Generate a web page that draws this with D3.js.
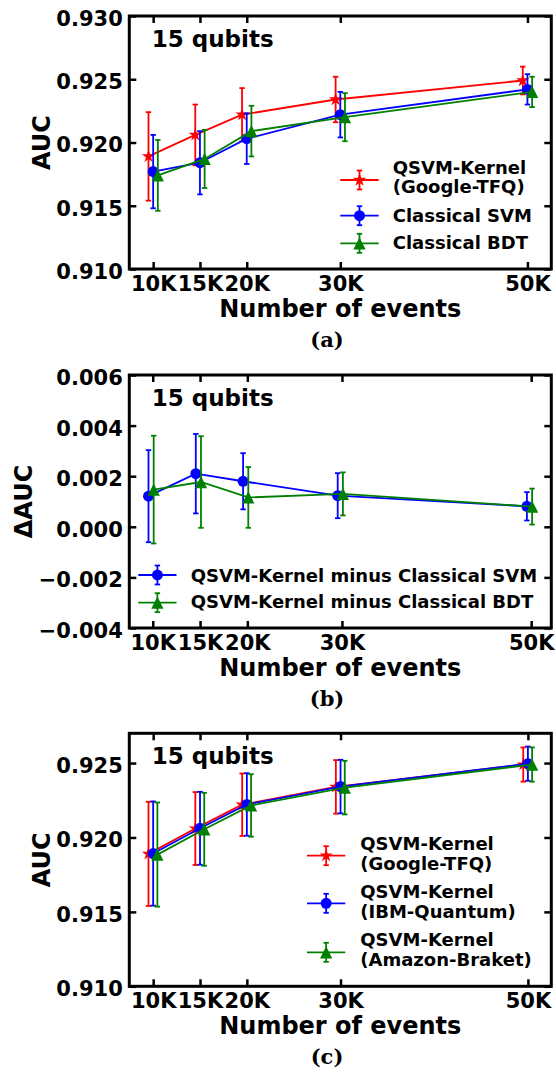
<!DOCTYPE html>
<html>
<head>
<meta charset="utf-8">
<script src="https://cdn.jsdelivr.net/npm/d3@7"></script>
<style>
  body { margin: 0; background: #fff; }
  svg text { font-family: "DejaVu Sans", sans-serif; font-weight: bold; }
</style>
</head>
<body>
<div id="chart"></div>
<script>
// number of events (thousands)
const events = [10, 15, 20, 30, 50];

// (a) AUC vs events
const aucTfq = [0.9189, 0.9206, 0.9222, 0.9234, 0.9249];
const errTfq = [0.0035, 0.0024, 0.0021, 0.0018, 0.0011];
const aucSvm = [0.9177, 0.9184, 0.9203, 0.9222, 0.9242];
const errSvm = [0.0029, 0.0025, 0.0020, 0.0018, 0.0012];
const aucBdt = [0.9174, 0.9187, 0.9209, 0.9220, 0.9240];
const errBdt = [0.0028, 0.0023, 0.0020, 0.0019, 0.0012];

// (b) delta AUC
const diffSvm = [0.00121, 0.00210, 0.00180, 0.00123, 0.00081];
const diffSvmErr = [0.00182, 0.00157, 0.00111, 0.00089, 0.00056];
const diffBdt = [0.00147, 0.00177, 0.00116, 0.00130, 0.00080];
const diffBdtErr = [0.00213, 0.00181, 0.00120, 0.00085, 0.00071];

// (c) three quantum backends
const aucIbm = [0.91892, 0.92062, 0.92222, 0.92342, 0.92496];
const errIbm = [0.0035, 0.00245, 0.0021, 0.0018, 0.00115];
const aucBraket = [0.91885, 0.92055, 0.92215, 0.92335, 0.9249];
const errBraket = [0.0035, 0.00245, 0.0021, 0.0018, 0.00115];

// legend labels
const labelTfq = ["QSVM-Kernel", "(Google-TFQ)"];
const labelSvm = ["Classical SVM"];
const labelBdt = ["Classical BDT"];
const labelDiffSvm = ["QSVM-Kernel minus Classical SVM"];
const labelDiffBdt = ["QSVM-Kernel minus Classical BDT"];
const labelIbm = ["QSVM-Kernel", "(IBM-Quantum)"];
const labelBraket = ["QSVM-Kernel", "(Amazon-Braket)"];

const aucTicks = [0.910, 0.915, 0.920, 0.925, 0.930];
const aucTicksC = [0.910, 0.915, 0.920, 0.925];
const diffTicks = [-0.004, -0.002, 0, 0.002, 0.004, 0.006];

// matplotlib style triangle ("^")
const triangleType = {
    draw(context, size) {
        const h = Math.sqrt(size) / 2;
        context.moveTo(0, -h);
        context.lineTo(h, h);
        context.lineTo(-h, h);
        context.closePath();
    }
};
const star = d3.symbol().type(d3.symbolStar).size(55)();
const circle = d3.symbol().type(d3.symbolCircle).size(Math.PI * 30)();
const triangle = d3.symbol().type(triangleType).size(150)();

const RED = "#ff0000", BLUE = "#0000ff", GREEN = "#008000";
const LW = 1.8;

const W = 556, H = 1072;
const left = 129.3, width = 422, height = 253;

const svg = d3.select("#chart").append("svg")
    .attr("width", W)
    .attr("height", H);

const panels = [
    {
        top: 16, yDomain: [0.910, 0.930], yTicks: aucTicks, yLabel: "AUC", yLabelX: 50, caption: "(a)",
        series: [
            { values: aucTfq, errors: errTfq, color: RED, symbol: star, offset: -0.5, label: labelTfq },
            { values: aucSvm, errors: errSvm, color: BLUE, symbol: circle, offset: 0, label: labelSvm },
            { values: aucBdt, errors: errBdt, color: GREEN, symbol: triangle, offset: 0.5, label: labelBdt }
        ],
        legend: { x0: 211, x1: 249.4, textX: 263.4, lineGap: 19,
                  rows: [{ my: 164, ty: 158.3 }, { my: 199.7, ty: 205.7 }, { my: 227.3, ty: 233.3 }] }
    },
    {
        top: 375, yDomain: [-0.004, 0.006], yTicks: diffTicks, yLabel: "ΔAUC", yLabelX: 31.5, caption: "(b)",
        series: [
            { values: diffSvm, errors: diffSvmErr, color: BLUE, symbol: circle, offset: -0.45, label: labelDiffSvm },
            { values: diffBdt, errors: diffBdtErr, color: GREEN, symbol: triangle, offset: 0.1, label: labelDiffBdt }
        ],
        legend: { x0: 9, x1: 47.2, textX: 61.4, lineGap: 19,
                  rows: [{ my: 200, ty: 206.7 }, { my: 227.7, ty: 233.3 }] }
    },
    {
        top: 733.3, yDomain: [0.910, 0.927], yTicks: aucTicksC, yLabel: "AUC", yLabelX: 50, caption: "(c)",
        series: [
            { values: aucTfq, errors: errIbm, color: RED, symbol: star, offset: -0.5, label: labelTfq },
            { values: aucIbm, errors: errIbm, color: BLUE, symbol: circle, offset: 0, label: labelIbm },
            { values: aucBraket, errors: errBraket, color: GREEN, symbol: triangle, offset: 0.45, label: labelBraket }
        ],
        legend: { x0: 177.7, x1: 216, textX: 231, lineGap: 20,
                  rows: [{ my: 122.4, ty: 116.7 }, { my: 170, ty: 164.4 }, { my: 219, ty: 212.7 }] }
    }
];

function drawPanel(p) {
    const g = svg.append("g").attr("transform", `translate(${left},${p.top})`);

    // x domain with matplotlib-like 5% margins around the shifted points
    const xs = p.series.flatMap(s => events.map(e => e + s.offset));
    const lo = d3.min(xs), hi = d3.max(xs), pad = (hi - lo) * 0.05;
    const x = d3.scaleLinear().domain([lo - pad, hi + pad]).range([0, width]);
    const y = d3.scaleLinear().domain(p.yDomain).range([height, 0]);

    // ticks pointing inward on all four sides
    const tk = 7;
    g.append("g").attr("class", "yl")
        .call(d3.axisLeft(y).tickValues(p.yTicks).tickFormat(d3.format(".3f"))
            .tickSizeInner(-tk).tickSizeOuter(0).tickPadding(6.5));
    g.append("g").attr("transform", `translate(${width},0)`)
        .call(d3.axisRight(y).tickValues(p.yTicks).tickFormat("").tickSizeInner(-tk).tickSizeOuter(0));
    g.append("g").attr("transform", `translate(0,${height})`)
        .call(d3.axisBottom(x).tickValues(events).tickFormat(d => d + "K")
            .tickSizeInner(-tk).tickSizeOuter(0).tickPadding(7));
    g.append("g")
        .call(d3.axisTop(x).tickValues(events).tickFormat("").tickSizeInner(-tk).tickSizeOuter(0));
    g.selectAll(".domain").remove();
    g.selectAll(".tick line").attr("stroke", "#000").attr("stroke-width", 2.5);
    g.selectAll(".tick text").attr("font-size", 21).attr("fill", "#000");
    g.selectAll(".yl .tick text").attr("dy", "0.45em");

    // data
    p.series.forEach(s => {
        const pts = events.map((e, i) => ({ x: x(e + s.offset), v: s.values[i], err: s.errors[i] }));
        const sg = g.append("g");
        sg.selectAll(".bar").data(pts).join("line")
            .attr("class", "bar")
            .attr("x1", d => d.x).attr("x2", d => d.x)
            .attr("y1", d => y(d.v - d.err)).attr("y2", d => y(d.v + d.err))
            .attr("stroke", s.color).attr("stroke-width", LW);
        const caps = pts.flatMap(d => [{ x: d.x, y: y(d.v - d.err) }, { x: d.x, y: y(d.v + d.err) }]);
        sg.selectAll(".cap").data(caps).join("line")
            .attr("class", "cap")
            .attr("x1", d => d.x - 2.7).attr("x2", d => d.x + 2.7)
            .attr("y1", d => d.y).attr("y2", d => d.y)
            .attr("stroke", s.color).attr("stroke-width", LW);
        sg.append("path").datum(pts)
            .attr("d", d3.line().x(d => d.x).y(d => y(d.v)))
            .attr("fill", "none").attr("stroke", s.color).attr("stroke-width", LW);
        sg.selectAll(".mk").data(pts).join("path")
            .attr("class", "mk")
            .attr("transform", d => `translate(${d.x},${y(d.v)})`)
            .attr("d", s.symbol)
            .attr("fill", s.color);
    });

    // frame
    g.append("rect")
        .attr("width", width).attr("height", height)
        .attr("fill", "none").attr("stroke", "#000").attr("stroke-width", 3);

    // annotation
    g.append("text").attr("x", 22.4).attr("y", 31).attr("font-size", 23).text("15 qubits");

    // legend
    const L = p.legend;
    p.series.forEach((s, i) => {
        const r = L.rows[i];
        const lg = g.append("g");
        const mx = (L.x0 + L.x1) / 2;
        lg.append("line").attr("x1", L.x0).attr("x2", L.x1).attr("y1", r.my).attr("y2", r.my)
            .attr("stroke", s.color).attr("stroke-width", LW);
        lg.append("line").attr("x1", mx).attr("x2", mx).attr("y1", r.my - 9.5).attr("y2", r.my + 9.5)
            .attr("stroke", s.color).attr("stroke-width", LW);
        [r.my - 9.5, r.my + 9.5].forEach(cy => {
            lg.append("line").attr("x1", mx - 2.7).attr("x2", mx + 2.7).attr("y1", cy).attr("y2", cy)
                .attr("stroke", s.color).attr("stroke-width", LW);
        });
        lg.append("path").attr("transform", `translate(${mx},${r.my})`).attr("d", s.symbol).attr("fill", s.color);
        s.label.forEach((t, j) => {
            lg.append("text").attr("x", L.textX).attr("y", r.ty + j * L.lineGap)
                .attr("font-size", 18).text(t);
        });
    });

    // axis labels
    g.append("text")
        .attr("x", width / 2).attr("y", height + 48)
        .attr("text-anchor", "middle").attr("font-size", 24)
        .text("Number of events");
    g.append("text")
        .attr("transform", `translate(${p.yLabelX - left},${height / 2}) rotate(-90)`)
        .attr("text-anchor", "middle").attr("font-size", 24)
        .text(p.yLabel);

    // sub-figure caption
    svg.append("text")
        .attr("x", 327).attr("y", p.top + height + 78)
        .attr("text-anchor", "middle")
        .attr("font-size", 21)
        .style("font-family", "'DejaVu Serif', serif")
        .text(p.caption);
}

panels.forEach(drawPanel);
</script>
</body>
</html>
